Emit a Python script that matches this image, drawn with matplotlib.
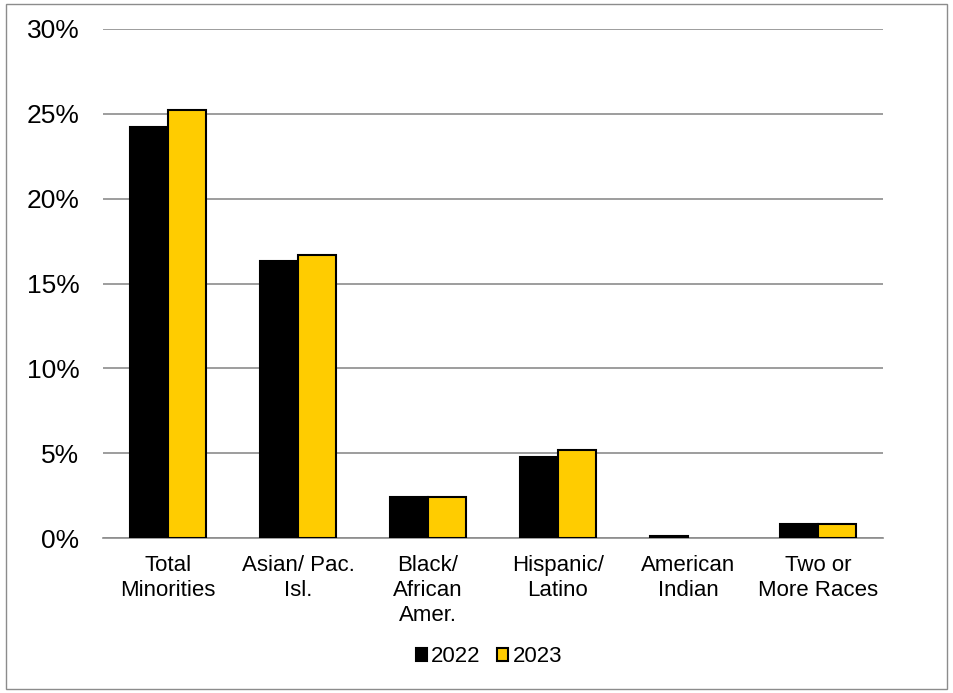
import numpy as np
import matplotlib.pyplot as plt
from matplotlib.patches import Rectangle

plt.rcParams['font.family'] = ['Liberation Sans', 'DejaVu Sans']

# Minority share by group
categories = ['Total\nMinorities', 'Asian/ Pac.\nIsl.', 'Black/\nAfrican\nAmer.',
              'Hispanic/\nLatino', 'American\nIndian', 'Two or\nMore Races']
vals_2022 = [24.2, 16.3, 2.4, 4.75, 0.1, 0.8]
vals_2023 = [25.2, 16.7, 2.4, 5.2, 0.0, 0.8]
years = ['2022', '2023']
colors = ['#000000', '#ffcc00']

fig = plt.figure(figsize=[9.54, 6.93], dpi=100)
ax = fig.add_axes([103/954, 1-538/693, 780/954, 509/693])

x = np.arange(len(categories))
w = 0.29
for i, (vals, off) in enumerate([(vals_2022, -w/2), (vals_2023, w/2)]):
    bars = ax.bar(x + off, vals, w, color=colors[i], edgecolor='black', linewidth=1.5,
                  label=years[i], zorder=3)
    for b, v in zip(bars, vals):
        if v == 0:
            b.set_visible(False)

ax.set_xlim(-0.5, len(categories) - 0.5)
ax.set_ylim(0, 30)
ax.set_yticks(np.arange(0, 31, 5))
ax.set_yticklabels([f'{v}%' for v in range(0, 31, 5)])
ax.set_xticks(x)
ax.set_xticklabels(categories, va='top', linespacing=1.27)
ax.tick_params(axis='both', length=0, colors='#000000')
ax.tick_params(axis='y', pad=17, labelsize=19)
ax.tick_params(axis='x', pad=12, labelsize=16)
ax.yaxis.grid(True, color='#8c8c8c', linewidth=1.2, zorder=0)
for s in ['left', 'right', 'top']:
    ax.spines[s].set_visible(False)
ax.spines['bottom'].set_color('#8c8c8c')
ax.spines['bottom'].set_linewidth(1.2)

fig.legend(loc='center', bbox_to_anchor=(489/954, 1-657/693), ncol=2, frameon=False,
           fontsize=16, handlelength=0.5, handleheight=0.5, handletextpad=0.2,
           columnspacing=0.75)

# outer frame
fig.patches.append(Rectangle((6/954, 4/693), 941/954, 685/693, transform=fig.transFigure,
                             fill=False, edgecolor='#8c8c8c', linewidth=1))

fig.savefig('out.png', dpi=100)
